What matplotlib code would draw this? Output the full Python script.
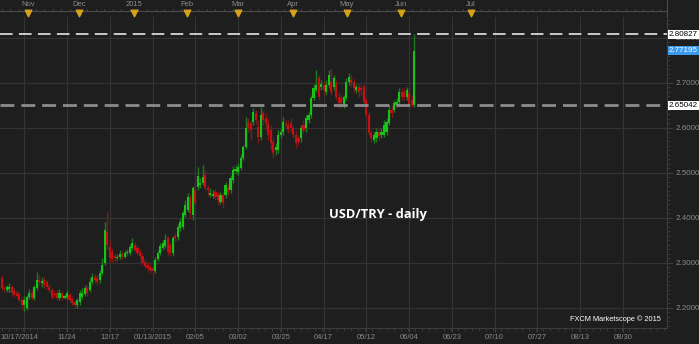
import matplotlib
matplotlib.use("Agg")
import matplotlib.pyplot as plt
import matplotlib.transforms as mtransforms
import numpy as np

# daily USD/TRY candles, one per bar index
opens = [2.267, 2.244, 2.240, 2.242, 2.247, 2.238, 2.233, 2.231, 2.218, 2.207,
         2.200, 2.224, 2.233, 2.222, 2.244, 2.262, 2.256, 2.262, 2.258, 2.247,
         2.240, 2.231, 2.233, 2.222, 2.233, 2.222, 2.224, 2.229, 2.220, 2.213,
         2.207, 2.213, 2.224, 2.231, 2.244, 2.240, 2.258, 2.269, 2.267, 2.262,
         2.278, 2.300, 2.369, 2.336, 2.324, 2.316, 2.311, 2.313, 2.320, 2.313,
         2.322, 2.322, 2.333, 2.340, 2.333, 2.324, 2.316, 2.302, 2.296, 2.291,
         2.289, 2.282, 2.309, 2.322, 2.333, 2.338, 2.356, 2.340, 2.322, 2.360,
         2.358, 2.378, 2.380, 2.407, 2.418, 2.447, 2.407, 2.462, 2.469, 2.473,
         2.478, 2.496, 2.467, 2.451, 2.449, 2.458, 2.453, 2.436, 2.451, 2.451,
         2.467, 2.462, 2.484, 2.504, 2.502, 2.511, 2.533, 2.558, 2.613, 2.611,
         2.613, 2.633, 2.602, 2.580, 2.633, 2.622, 2.611, 2.596, 2.569, 2.551,
         2.551, 2.584, 2.591, 2.609, 2.607, 2.611, 2.600, 2.584, 2.578, 2.578,
         2.607, 2.600, 2.618, 2.629, 2.667, 2.684, 2.711, 2.691, 2.696, 2.680,
         2.696, 2.702, 2.691, 2.700, 2.669, 2.667, 2.651, 2.667, 2.702, 2.707,
         2.702, 2.684, 2.691, 2.689, 2.691, 2.662, 2.629, 2.589, 2.573, 2.578,
         2.591, 2.584, 2.584, 2.591, 2.611, 2.640, 2.640, 2.651, 2.658, 2.680,
         2.680, 2.669, 2.678, 2.662, 2.6504]
highs = [2.273, 2.251, 2.251, 2.256, 2.251, 2.244, 2.240, 2.236, 2.224, 2.227,
         2.229, 2.242, 2.240, 2.251, 2.280, 2.273, 2.269, 2.269, 2.262, 2.253,
         2.244, 2.240, 2.240, 2.242, 2.238, 2.231, 2.240, 2.233, 2.227, 2.218,
         2.222, 2.240, 2.244, 2.251, 2.251, 2.267, 2.278, 2.276, 2.273, 2.284,
         2.311, 2.391, 2.416, 2.351, 2.333, 2.322, 2.320, 2.329, 2.327, 2.329,
         2.331, 2.342, 2.356, 2.347, 2.340, 2.331, 2.322, 2.309, 2.302, 2.298,
         2.293, 2.313, 2.329, 2.344, 2.351, 2.364, 2.360, 2.347, 2.360, 2.367,
         2.387, 2.400, 2.418, 2.440, 2.456, 2.451, 2.471, 2.473, 2.513, 2.489,
         2.518, 2.507, 2.473, 2.467, 2.462, 2.464, 2.458, 2.458, 2.458, 2.480,
         2.476, 2.496, 2.516, 2.518, 2.522, 2.542, 2.562, 2.624, 2.622, 2.618,
         2.644, 2.640, 2.618, 2.647, 2.640, 2.633, 2.622, 2.607, 2.578, 2.567,
         2.596, 2.600, 2.624, 2.618, 2.618, 2.622, 2.607, 2.596, 2.584, 2.607,
         2.618, 2.629, 2.636, 2.673, 2.698, 2.729, 2.718, 2.707, 2.702, 2.707,
         2.729, 2.733, 2.718, 2.707, 2.680, 2.673, 2.673, 2.711, 2.722, 2.718,
         2.711, 2.698, 2.698, 2.696, 2.698, 2.669, 2.636, 2.596, 2.591, 2.600,
         2.600, 2.600, 2.618, 2.622, 2.651, 2.651, 2.662, 2.667, 2.689, 2.689,
         2.689, 2.691, 2.689, 2.673, 2.80827]
lows = [2.240, 2.236, 2.236, 2.236, 2.229, 2.224, 2.222, 2.213, 2.196, 2.191,
        2.196, 2.220, 2.218, 2.218, 2.240, 2.251, 2.247, 2.244, 2.242, 2.236,
        2.220, 2.222, 2.218, 2.218, 2.218, 2.220, 2.220, 2.213, 2.207, 2.200,
        2.200, 2.207, 2.220, 2.227, 2.227, 2.236, 2.253, 2.256, 2.251, 2.256,
        2.273, 2.296, 2.329, 2.302, 2.302, 2.302, 2.307, 2.309, 2.309, 2.311,
        2.318, 2.318, 2.329, 2.324, 2.318, 2.311, 2.296, 2.289, 2.282, 2.278,
        2.273, 2.278, 2.305, 2.318, 2.329, 2.333, 2.318, 2.316, 2.316, 2.349,
        2.351, 2.371, 2.376, 2.402, 2.413, 2.400, 2.396, 2.429, 2.462, 2.467,
        2.473, 2.462, 2.449, 2.447, 2.444, 2.440, 2.429, 2.431, 2.422, 2.444,
        2.451, 2.456, 2.478, 2.498, 2.496, 2.507, 2.529, 2.553, 2.591, 2.573,
        2.607, 2.607, 2.567, 2.573, 2.607, 2.596, 2.573, 2.551, 2.533, 2.540,
        2.544, 2.578, 2.584, 2.600, 2.589, 2.591, 2.578, 2.556, 2.562, 2.569,
        2.589, 2.591, 2.611, 2.622, 2.662, 2.680, 2.662, 2.684, 2.673, 2.673,
        2.689, 2.673, 2.684, 2.662, 2.644, 2.647, 2.644, 2.662, 2.696, 2.691,
        2.680, 2.678, 2.669, 2.673, 2.651, 2.622, 2.584, 2.569, 2.567, 2.569,
        2.573, 2.578, 2.580, 2.584, 2.607, 2.624, 2.636, 2.647, 2.651, 2.662,
        2.662, 2.662, 2.647, 2.647, 2.647]
closes = [2.244, 2.242, 2.247, 2.247, 2.233, 2.229, 2.227, 2.218, 2.207, 2.218,
          2.224, 2.233, 2.222, 2.247, 2.262, 2.258, 2.260, 2.251, 2.247, 2.240,
          2.224, 2.229, 2.222, 2.233, 2.222, 2.227, 2.233, 2.218, 2.211, 2.207,
          2.218, 2.233, 2.233, 2.244, 2.233, 2.258, 2.269, 2.262, 2.258, 2.278,
          2.296, 2.373, 2.340, 2.311, 2.309, 2.311, 2.313, 2.320, 2.313, 2.322,
          2.324, 2.336, 2.344, 2.329, 2.322, 2.316, 2.300, 2.293, 2.289, 2.284,
          2.282, 2.307, 2.322, 2.338, 2.344, 2.351, 2.324, 2.322, 2.356, 2.356,
          2.380, 2.391, 2.411, 2.429, 2.447, 2.411, 2.467, 2.433, 2.493, 2.478,
          2.491, 2.467, 2.462, 2.456, 2.453, 2.447, 2.440, 2.451, 2.433, 2.473,
          2.458, 2.489, 2.507, 2.509, 2.513, 2.533, 2.558, 2.600, 2.600, 2.596,
          2.636, 2.618, 2.580, 2.629, 2.618, 2.611, 2.584, 2.567, 2.544, 2.558,
          2.584, 2.591, 2.613, 2.607, 2.596, 2.600, 2.584, 2.567, 2.569, 2.600,
          2.596, 2.622, 2.629, 2.667, 2.689, 2.696, 2.669, 2.698, 2.684, 2.696,
          2.718, 2.680, 2.711, 2.669, 2.656, 2.656, 2.669, 2.702, 2.713, 2.700,
          2.689, 2.691, 2.680, 2.684, 2.658, 2.629, 2.589, 2.578, 2.584, 2.591,
          2.582, 2.591, 2.607, 2.613, 2.640, 2.633, 2.656, 2.658, 2.680, 2.669,
          2.669, 2.684, 2.651, 2.651, 2.77195]

date_labels = ["10/17/2014", "11/24", "12/17", "01/13/2015", "02/05", "03/02",
               "03/25", "04/17", "05/12", "06/04", "06/23", "07/10", "07/27",
               "08/13", "08/30"]
date_pos = [9, 26, 43, 60, 77, 94, 111, 128, 145, 162, 179, 196, 213, 230, 247]
months = ["Nov", "Dec", "2015", "Feb", "Mar", "Apr", "May", "Jun", "Jul"]
month_pos = [10.5, 30.8, 52.6, 73.7, 94, 115.8, 137.3, 158.7, 186.6]
level_hi = 2.80827
level_lo = 2.65042
last_close = 2.77195

BG = "#1e1e1e"
GRID = "#343434"
TXT = "#8a8a8a"
AXC = "#3c3c3c"
UP = "#16c416"
DN = "#c41010"
UP_W = "#1f7a1f"
DN_W = "#7a1a1a"
FONT = "Liberation Sans"
XLIM = (-0.64, 264.5)

fig = plt.figure(figsize=(6.99, 3.44), dpi=100, facecolor=BG)
ax = fig.add_axes([0, 16 / 344, 667 / 699, 311 / 344], facecolor=BG)
top = fig.add_axes([0, 327 / 344, 667 / 699, 17 / 344], facecolor=BG)

o = np.array(opens)
h = np.array(highs)
l = np.array(lows)
c = np.array(closes)
idx = np.arange(len(c))
up = c >= o

ax.vlines(idx[up], l[up], h[up], color=UP_W, lw=1, zorder=3)
ax.vlines(idx[~up], l[~up], h[~up], color=DN_W, lw=1, zorder=3)
body_lo = np.minimum(o, c)
body_h = np.maximum(np.abs(c - o), 0.002)
ax.bar(idx[up], body_h[up], bottom=body_lo[up], width=0.85, color=UP, lw=0, zorder=4)
ax.bar(idx[~up], body_h[~up], bottom=body_lo[~up], width=0.85, color=DN, lw=0, zorder=4)

ax.axhline(level_hi, color="#d8d8d8", lw=1.3, dashes=(7, 3.5), zorder=5)
ax.axhline(level_lo, color="#8c8c8c", lw=2, dashes=(5, 2.5), zorder=5)

ax.set_xlim(*XLIM)
ax.set_ylim(2.1555, 2.8466)

yt = np.arange(2.2, 2.81, 0.1)
ax.set_yticks(yt)
ax.set_yticks(np.arange(2.16, 2.85, 0.01), minor=True)
ax.yaxis.tick_right()
ax.tick_params(axis="y", which="major", colors=AXC, labelcolor=TXT,
               labelsize=5.8, length=4, pad=2)
ax.tick_params(axis="y", which="minor", colors=AXC, length=2)
ax.set_yticklabels(["%.4f" % v for v in yt], family=FONT)

ax.set_xticks(date_pos)
ax.set_xticks(np.arange(0, 265, 17 / 6), minor=True)
ax.set_xticklabels([""] + date_labels[1:], family=FONT)
ax.tick_params(axis="x", which="major", colors=AXC, labelcolor=TXT,
               labelsize=5.5, length=3, pad=1.5)
ax.tick_params(axis="x", which="minor", colors=AXC, length=2)
ax.text(0.0, -0.019, date_labels[0], transform=ax.transAxes, color=TXT,
        fontsize=5.5, family=FONT, ha="left", va="top")
ax.grid(True, which="major", color=GRID, lw=0.8)

for s in ["top", "left"]:
    ax.spines[s].set_visible(False)
ax.spines["right"].set_color(AXC)
ax.spines["bottom"].set_color(AXC)

ax.text(0.567, 0.365, "USD/TRY - daily", transform=ax.transAxes, color="white",
        fontsize=9.3, fontweight="bold", family="Open Sans", ha="center", va="center")
ax.text(0.99, 0.03, "FXCM Marketscope \u00a9 2015", transform=ax.transAxes, color="white",
        fontsize=5.3, family=FONT, ha="right", va="center")

# price boxes on the right axis
trans = mtransforms.blended_transform_factory(ax.transAxes, ax.transData)
for val, fc, tc in [(level_hi, "white", "black"), (last_close, "#3a9af0", "white"),
                    (level_lo, "white", "black")]:
    ax.text(1.003, val, "%.5f" % val, transform=trans, color=tc, fontsize=5.8,
            family=FONT, ha="left", va="center", zorder=10, clip_on=False,
            bbox=dict(boxstyle="square,pad=0.12", fc=fc, ec="none"))

# top month strip
top.set_xlim(*XLIM)
top.set_ylim(0, 1)
top.axhline(0.35, color="#4a4a4a", lw=0.8)
top.axhline(0.0, color="#4a4a4a", lw=0.8)
for xm in np.arange(0, 265, 3.4):
    top.plot([xm, xm], [0.35, 0.5], color="#4a4a4a", lw=0.6)
top.scatter(month_pos, [0.25] * len(month_pos), marker="v", s=22, color="#d6a21a",
            zorder=3, clip_on=False)
for name, xm in zip(months, month_pos):
    top.text(xm, 0.72, name, color=TXT, fontsize=5.5, family=FONT,
             ha="center", va="center")
top.set_xticks([])
top.set_yticks([])
for s in top.spines.values():
    s.set_visible(False)
top.spines["right"].set_visible(True)
top.spines["right"].set_color("#4a4a4a")

fig.savefig("out.png", dpi=100, facecolor=BG)
